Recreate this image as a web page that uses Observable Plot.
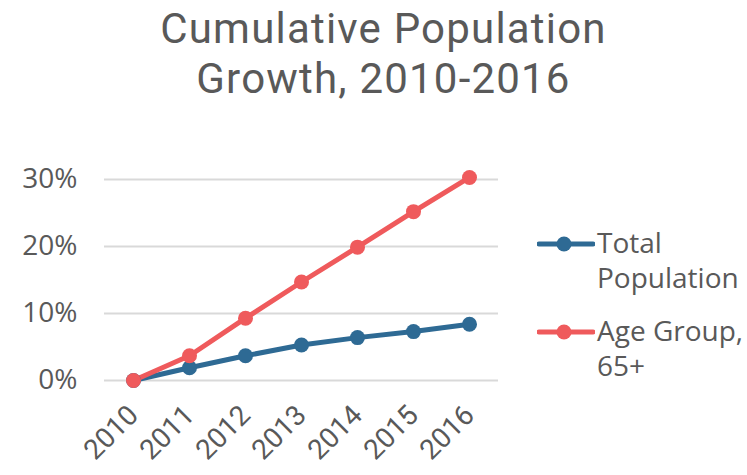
<!DOCTYPE html>
<html>
<head>
<meta charset="utf-8">
<script src="https://cdn.jsdelivr.net/npm/d3@7"></script>
<script src="https://cdn.jsdelivr.net/npm/@observablehq/plot@0.6"></script>
<style>
  body { margin: 0; background: #fff; font-family: "Open Sans", sans-serif; color: #595959; }
  #wrap { position: relative; width: 747px; height: 475px; overflow: hidden; }
  .title { position: absolute; left: 10px; width: 747px; text-align: center; font-family: Roboto, sans-serif; font-size: 42px; line-height: normal; letter-spacing: 1.2px; white-space: nowrap; }
  #chart { position: absolute; left: 0; top: 120px; }
  .item { position: absolute; left: 537px; font-size: 28px; line-height: 35px; }
  .item svg { position: absolute; left: 0; top: 9px; }
  .item span { position: absolute; left: 60px; top: 0; white-space: nowrap; }
</style>
</head>
<body>
<div id="wrap">
  <div class="title" style="top:4px">Cumulative Population</div>
  <div class="title" style="top:53.5px">Growth, 2010-2016</div>
  <div id="chart"></div>
  <div id="legend"></div>
</div>
<script>
// Cumulative growth since 2010 (share of the 2010 level)
const years = ["2010", "2011", "2012", "2013", "2014", "2015", "2016"];
const totalPopulation = [0, 0.019, 0.037, 0.053, 0.064, 0.073, 0.084];
const age65Plus = [0, 0.037, 0.093, 0.147, 0.199, 0.252, 0.303];
const seriesNames = ["Total Population", "Age Group, 65+"];
const seriesColors = ["#2e6a94", "#ef5a5c"];
const yTicks = [0, 0.1, 0.2, 0.3];

const rows = [
  ...years.map((year, i) => ({year, series: seriesNames[0], value: totalPopulation[i]})),
  ...years.map((year, i) => ({year, series: seriesNames[1], value: age65Plus[i]}))
];

const chart = Plot.plot({
  width: 747,
  height: 355,
  marginTop: 59,
  marginBottom: 95,
  marginLeft: 104,
  marginRight: 249,
  style: {fontFamily: "Open Sans, sans-serif", color: "#595959", background: "#fff", overflow: "visible"},
  x: {type: "point", domain: years, padding: 0.5},
  y: {domain: [0, 0.3]},
  color: {domain: seriesNames, range: seriesColors},
  marks: [
    Plot.ruleY(yTicks, {stroke: "#d9d9d9", strokeWidth: 2}),
    Plot.axisY(yTicks, {tickSize: 0, tickPadding: 27, fontSize: 28, tickFormat: d => Math.round(d * 100) + "%", label: null, fill: "#595959"}),
    Plot.axisX({tickSize: 0, tickRotate: -45, tickPadding: 30, fontSize: 28, fontFamily: "Roboto, sans-serif", label: null, fill: "#595959"}),
    Plot.line(rows, {x: "year", y: "value", z: "series", stroke: "series", strokeWidth: 5, strokeLinejoin: "round"}),
    Plot.dot(rows, {x: "year", y: "value", fill: "series", r: 7.5, stroke: null})
  ]
});
document.getElementById("chart").appendChild(chart);

// Legend: line-and-dot swatch followed by the series name
const legend = document.getElementById("legend");
const legendLines = [["Total", "Population"], ["Age Group,", "65+"]];
const legendTops = [225, 313];
seriesNames.forEach((name, i) => {
  const item = document.createElement("div");
  item.className = "item";
  item.style.top = legendTops[i] + "px";
  item.innerHTML =
    `<svg width="58" height="20"><line x1="2" y1="10" x2="56" y2="10" stroke="${seriesColors[i]}" stroke-width="5" stroke-linecap="round"/>` +
    `<circle cx="27" cy="10" r="7.5" fill="${seriesColors[i]}"/></svg>` +
    `<span>${legendLines[i].join("<br>")}</span>`;
  legend.appendChild(item);
});
</script>
</body>
</html>
